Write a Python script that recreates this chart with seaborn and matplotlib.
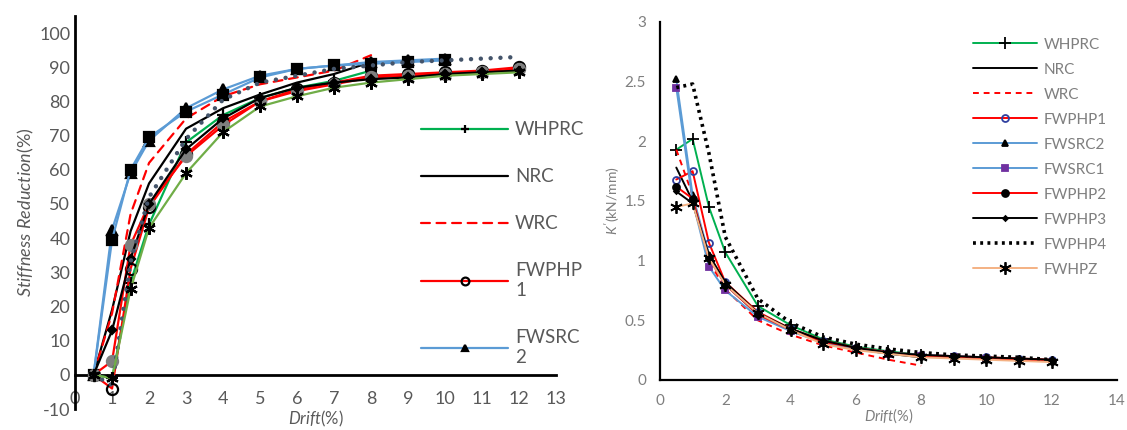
import numpy as np
import pandas as pd
import matplotlib
matplotlib.use("Agg")
import matplotlib.pyplot as plt
from matplotlib.ticker import MultipleLocator, FormatStrFormatter
import seaborn as sns

# drift levels (%)
drift = [0.5, 1, 1.5, 2, 3, 4, 5, 6, 7, 8, 9, 10, 11, 12]

# stiffness reduction (%), left panel
sr_whprc = [0, -1, 27, 44, 68, 76, 81, 84, 86, 89]
sr_nrc = [0, 19, 42, 56, 72, 78, 82, 85.5, 88, 91.5]
sr_wrc = [0, 18, 47, 62, 75, 81.5, 85, 87, 89, 93.5]
sr_fwphp1 = [0, -4, 31, 49, 64.5, 74, 80, 83.5, 85.5, 87.5, 88, 88.5, 89, 90]
sr_fwsrc2 = [0, 42.5, 59, 68.5, 78, 83.5, 87.5, 89.5, 90.5, 91.5, 92, 92.5]
sr_fwsrc1 = [0, 39.5, 60, 69.5, 77, 82, 87, 89.5, 90.5, 91, 91.5, 92]
sr_fwphp2 = [0, 4, 38, 50, 64, 73, 80, 83, 85, 87, 87.5, 88, 88.5, 89.5]
sr_fwphp3 = [0, 13, 34, 50, 66, 75, 81, 84, 85.5, 86.5, 87, 88, 88.5, 89]
sr_fwphp4 = [0, -3, 33, 52, 69, 80.5, 85.5, 87.5, 89.5, 90.5, 91.5, 92, 92.5, 93]
sr_fwhpz = [0, -1, 25, 43, 59, 71, 78.5, 81.5, 84, 85.5, 86.5, 87.5, 88, 88.5]

# secant stiffness K' (kN/mm), right panel
k_whprc = [1.93, 2.02, 1.45, 1.07, 0.62, 0.46, 0.34, 0.28, 0.24, 0.21]
k_nrc = [1.78, 1.5, 1.05, 0.8, 0.55, 0.42, 0.32, 0.26, 0.22, 0.19]
k_wrc = [1.93, 1.55, 1.0, 0.76, 0.5, 0.38, 0.29, 0.23, 0.17, 0.12]
k_fwphp1 = [1.68, 1.75, 1.15, 0.82, 0.57, 0.43, 0.33, 0.27, 0.23, 0.21, 0.2, 0.19, 0.18, 0.17]
k_fwsrc2 = [2.52, 1.55, 1.05, 0.8, 0.55, 0.42, 0.32, 0.27, 0.23, 0.21, 0.2, 0.19]
k_fwsrc1 = [2.45, 1.5, 0.95, 0.75, 0.53, 0.41, 0.31, 0.26, 0.22, 0.2, 0.19, 0.18]
k_fwphp2 = [1.62, 1.52, 1.02, 0.8, 0.55, 0.42, 0.32, 0.27, 0.23, 0.2, 0.19, 0.18, 0.17, 0.16]
k_fwphp3 = [1.58, 1.48, 1.05, 0.82, 0.56, 0.43, 0.33, 0.27, 0.23, 0.21, 0.2, 0.19, 0.18, 0.17]
k_fwphp4 = [2.45, 2.48, 1.9, 1.2, 0.68, 0.48, 0.36, 0.3, 0.26, 0.23, 0.21, 0.2, 0.19, 0.17]
k_fwhpz = [1.45, 1.48, 1.02, 0.8, 0.56, 0.42, 0.3, 0.25, 0.22, 0.19, 0.18, 0.17, 0.16, 0.15]

names = ["WHPRC", "NRC", "WRC", "FWPHP1", "FWSRC2", "FWSRC1", "FWPHP2", "FWPHP3", "FWPHP4", "FWHPZ"]
left_vals = [sr_whprc, sr_nrc, sr_wrc, sr_fwphp1, sr_fwsrc2, sr_fwsrc1, sr_fwphp2, sr_fwphp3, sr_fwphp4, sr_fwhpz]
right_vals = [k_whprc, k_nrc, k_wrc, k_fwphp1, k_fwsrc2, k_fwsrc1, k_fwphp2, k_fwphp3, k_fwphp4, k_fwhpz]

star = (6, 2, 0)
# styles: color, linestyle, marker, marker face, marker edge
left_style = {
    "WHPRC": ("#00B050", "-", "+", "black", "black"),
    "NRC": ("black", "-", None, "black", "black"),
    "WRC": ("#FF0000", (0, (4, 3)), None, "red", "red"),
    "FWPHP1": ("#FF0000", "-", "o", "none", "black"),
    "FWSRC2": ("#5B9BD5", "-", "^", "black", "black"),
    "FWSRC1": ("#5B9BD5", "-", "s", "black", "black"),
    "FWPHP2": ("#FF0000", "-", "o", "#7F7F7F", "#7F7F7F"),
    "FWPHP3": ("black", "-", "D", "black", "black"),
    "FWPHP4": ("#44546A", (0, (0.01, 2.2)), None, "#44546A", "#44546A"),
    "FWHPZ": ("#70AD47", "-", star, "black", "black"),
}
left_msize = {"+": 8, "o": 8, "^": 7, "s": 7, "D": 4, star: 9}

right_style = {
    "WHPRC": ("#00B050", "-", "+", "black", "black"),
    "NRC": ("black", "-", None, "black", "black"),
    "WRC": ("#FF0000", (0, (3, 2.5)), None, "red", "red"),
    "FWPHP1": ("#FF0000", "-", "o", "none", "#2F3F9F"),
    "FWSRC2": ("#5B9BD5", "-", "^", "black", "black"),
    "FWSRC1": ("#5B9BD5", "-", "s", "#7030A0", "#7030A0"),
    "FWPHP2": ("#FF0000", "-", "o", "black", "black"),
    "FWPHP3": ("black", "-", "D", "black", "black"),
    "FWPHP4": ("black", (0, (0.8, 1.2)), None, "black", "black"),
    "FWHPZ": ("#F4B183", "-", star, "black", "black"),
}
right_msize = {"+": 9, "o": 5, "^": 4, "s": 4, "D": 2.5, star: 9}

sns.set_style("white")
plt.rcParams["font.family"] = ["Lato", "DejaVu Sans"]
plt.rcParams["mathtext.fontset"] = "custom"
plt.rcParams["mathtext.it"] = "Lato:italic"
plt.rcParams["mathtext.rm"] = "Lato"
plt.rcParams["axes.unicode_minus"] = False

fig = plt.figure(figsize=(11.27, 4.30), dpi=100)
ax1 = fig.add_axes([0.0666, 0.0488, 0.4268, 0.9142])
ax2 = fig.add_axes([0.5856, 0.1163, 0.4055, 0.8326])

gray = "#595959"

# ---- left panel: stiffness reduction
for name, vals in zip(names, left_vals):
    c, ls, m, mf, me = left_style[name]
    lw = 3.2 if name == "FWPHP4" else 1.6
    df = pd.DataFrame({"drift": drift[:len(vals)], "val": vals})
    sns.lineplot(data=df, x="drift", y="val", ax=ax1, color=c, linestyle=ls, linewidth=lw,
                 marker=m, markersize=left_msize.get(m, 0), markerfacecolor=mf,
                 markeredgecolor=me, markeredgewidth=1.6, label=name, zorder=3,
                 dash_capstyle="round")

ax1.set_xlim(0, 13)
ax1.set_ylim(-10, 105)
ax1.xaxis.set_major_locator(MultipleLocator(1))
ax1.set_yticks(np.arange(-10, 101, 10))
ax1.spines["bottom"].set_position(("data", 0))
for s in ["top", "right"]:
    ax1.spines[s].set_visible(False)
for s in ["left", "bottom"]:
    ax1.spines[s].set_linewidth(2)
    ax1.spines[s].set_color("black")
ax1.tick_params(axis="both", direction="in", length=6, width=2, color="black",
                labelsize=13, labelcolor=gray)
ax1.tick_params(axis="x", pad=12)
ax1.set_xlabel(r"$\it{Drift}$(%)", fontsize=12, color=gray, labelpad=1)
ax1.set_ylabel(r"$\it{Stiffness\ Reduction}$(%)", fontsize=13, color=gray, labelpad=2)

h, l = ax1.get_legend_handles_labels()
wrap = {"FWPHP1": "FWPHP\n1", "FWSRC2": "FWSRC\n2"}
leg1 = ax1.legend(h[:5], [wrap.get(x, x) for x in l[:5]], loc="upper left",
                  bbox_to_anchor=(0.685, 0.775), frameon=False, fontsize=13.5,
                  handlelength=4.6, labelspacing=1.6, handletextpad=0.4, markerscale=0.7)
for t in leg1.get_texts():
    t.set_color(gray)

# ---- right panel: K'
for name, vals in zip(names, right_vals):
    c, ls, m, mf, me = right_style[name]
    lw = 2.6 if name == "FWPHP4" else 1.4
    df = pd.DataFrame({"drift": drift[:len(vals)], "val": vals})
    sns.lineplot(data=df, x="drift", y="val", ax=ax2, color=c, linestyle=ls, linewidth=lw,
                 marker=m, markersize=right_msize.get(m, 0), markerfacecolor=mf,
                 markeredgecolor=me, markeredgewidth=1.3, label=name, zorder=3)

ax2.set_xlim(0, 14)
ax2.set_ylim(0, 3)
ax2.xaxis.set_major_locator(MultipleLocator(2))
ax2.xaxis.set_minor_locator(MultipleLocator(0.4))
ax2.yaxis.set_major_locator(MultipleLocator(0.5))
ax2.yaxis.set_minor_locator(MultipleLocator(0.1))
ax2.yaxis.set_major_formatter(FormatStrFormatter("%g"))
for s in ["top", "right"]:
    ax2.spines[s].set_visible(False)
for s in ["left", "bottom"]:
    ax2.spines[s].set_linewidth(1.6)
    ax2.spines[s].set_color("black")
ax2.tick_params(axis="both", which="both", direction="in", width=1.2, color="black",
                labelsize=11, labelcolor="#7F7F7F")
ax2.tick_params(which="major", length=5, pad=10)
ax2.tick_params(which="minor", length=4)
ax2.set_xlabel(r"$\it{Drift}$(%)", fontsize=10.5, color="#7F7F7F", labelpad=-1)
ax2.set_ylabel(r"$\it{K'}$(kN/mm)", fontsize=10, color="#7F7F7F", labelpad=2)

leg2 = ax2.legend(loc="upper left", bbox_to_anchor=(0.655, 0.995), frameon=False,
                  fontsize=11, handlelength=4.2, labelspacing=0.72, handletextpad=0.4)
for t in leg2.get_texts():
    t.set_color("#7F7F7F")

fig.savefig("out.png", dpi=100)
